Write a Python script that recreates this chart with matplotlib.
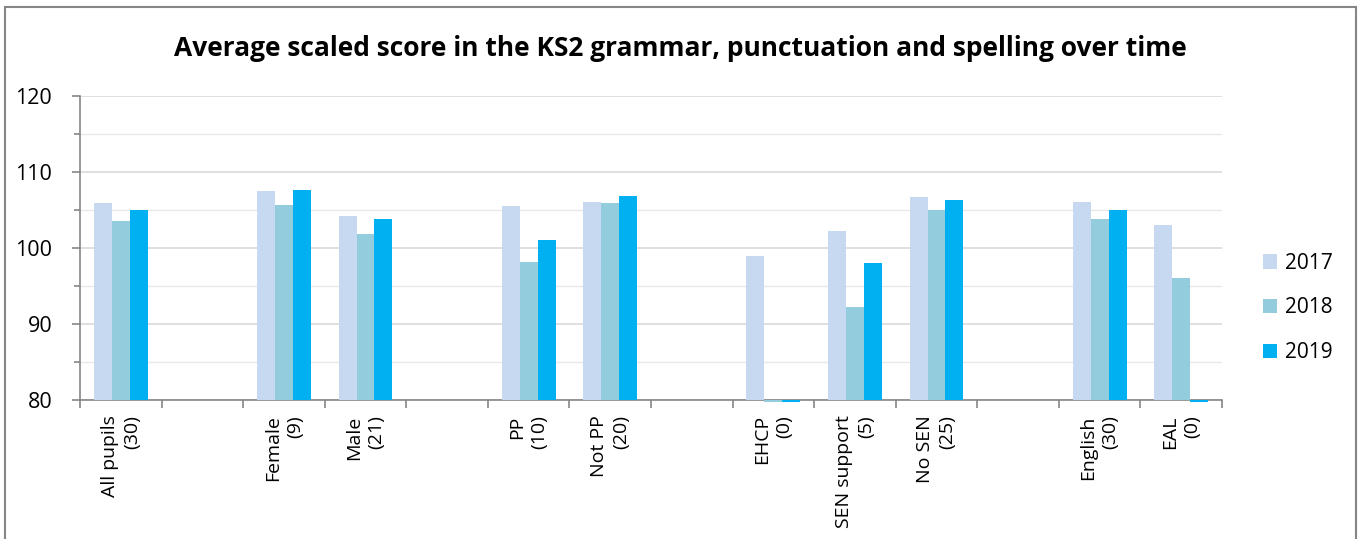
import matplotlib
matplotlib.use("Agg")
import matplotlib.pyplot as plt
import numpy as np
from matplotlib.ticker import MultipleLocator
from matplotlib.patches import Rectangle

plt.rcParams['font.family'] = ['Open Sans', 'DejaVu Sans']

categories = ["All pupils\n(30)", "", "Female\n(9)", "Male\n(21)", "", "PP\n(10)", "Not PP\n(20)", "",
              "EHCP\n(0)", "SEN support\n(5)", "No SEN\n(25)", "", "English\n(30)", "EAL\n(0)"]
years = ["2017", "2018", "2019"]
v2017 = [105.9, np.nan, 107.5, 104.2, np.nan, 105.5, 106.0, np.nan, 99.0, 102.3, 106.7, np.nan, 106.0, 103.0]
v2018 = [103.6, np.nan, 105.7, 101.9, np.nan, 98.2, 105.9, np.nan, 0, 92.3, 105.0, np.nan, 103.8, 96.0]
v2019 = [105.0, np.nan, 107.6, 103.8, np.nan, 101.1, 106.8, np.nan, 0, 98.0, 106.3, np.nan, 105.0, 0]
colors = ["#C6D9F1", "#93CDDD", "#00B0F0"]

fig = plt.figure(figsize=(13.6, 5.39), dpi=100)
ax = fig.add_axes([80/1360, 1-400/539, (1222-80)/1360, (400-96)/539])

ymin = 80
x = np.arange(len(categories))
w = 0.22
for i, (vals, c, lab) in enumerate(zip([v2017, v2018, v2019], colors, years)):
    vals = np.array(vals, dtype=float)
    h = np.where(np.isnan(vals), 0, vals - ymin)
    h = np.where((~np.isnan(vals)) & (vals < ymin), -0.25, h)
    ax.bar(x + (i - 1) * w, h, w, bottom=ymin, color=c, label=lab, zorder=3, clip_on=False)

ax.set_xlim(-0.5, len(categories) - 0.5)
ax.set_ylim(80, 120)
ax.yaxis.set_major_locator(MultipleLocator(10))
ax.yaxis.set_minor_locator(MultipleLocator(5))
ax.grid(axis='y', which='major', color='#D9D9D9', linewidth=1.2, zorder=0)
ax.grid(axis='y', which='minor', color='#E8E8E8', linewidth=1.0, zorder=0)
ax.set_xticks(np.arange(len(categories) + 1) - 0.5)
ax.set_xticklabels([])
ax.set_xticks(x, minor=True)
ax.set_xticklabels(categories, minor=True, rotation=90, fontsize=14, va='top', ha='center',
                   multialignment='right', color='#000000', linespacing=1.3)
ax.tick_params(axis='x', which='major', length=6, color='#868686', width=1.2, direction='out')
ax.tick_params(axis='x', which='minor', length=0, pad=11)
ax.tick_params(axis='y', which='major', length=6, color='#868686', width=1.2, labelsize=15.5, pad=14)
ax.tick_params(axis='y', which='minor', length=4, color='#868686', width=1.2)
for s in ['top', 'right']:
    ax.spines[s].set_visible(False)
for s in ['left', 'bottom']:
    ax.spines[s].set_color('#868686')
    ax.spines[s].set_linewidth(1.2)

fig.text(680/1360, 1-48/539, "Average scaled score in the KS2 grammar, punctuation and spelling over time",
         ha='center', va='center', fontsize=19, fontweight='bold')

leg = fig.legend(loc='center left', bbox_to_anchor=(1244/1360, 1-308/539), frameon=False, fontsize=15,
                 handlelength=0.7, handleheight=0.7, labelspacing=1.15, handletextpad=0.35)

fig.patches.append(Rectangle((5/1360, -0.1), 1351/1360, 1.1 - 7/539, transform=fig.transFigure,
                             fill=False, edgecolor='#868686', linewidth=1.5))

fig.savefig("out.png", dpi=100)
